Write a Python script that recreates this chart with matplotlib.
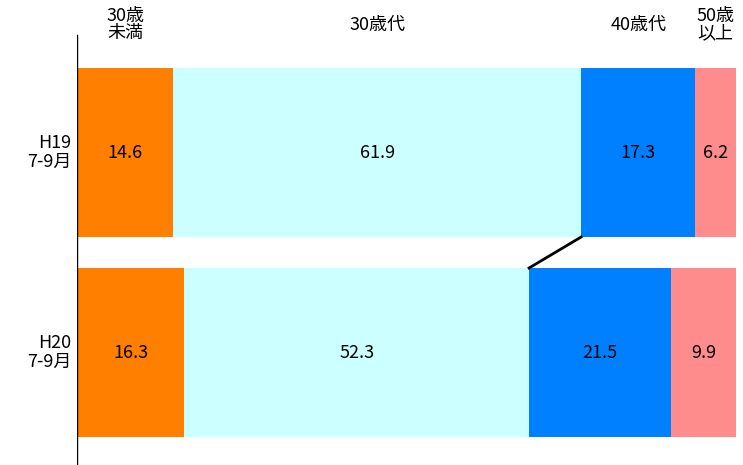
import matplotlib.pyplot as plt
import numpy as np

plt.rcParams['font.family'] = ['Noto Sans CJK JP', 'DejaVu Sans']

rows = ["H19\n7-9月", "H20\n7-9月"]
groups = ["30歳\n未満", "30歳代", "40歳代", "50歳\n以上"]
values = np.array([
    [14.6, 61.9, 17.3, 6.2],
    [16.3, 52.3, 21.5, 9.9],
])
colors = ["#FF8000", "#CCFFFF", "#0080FF", "#FF8C8C"]

fig = plt.figure(figsize=(7.43, 4.65), dpi=100)
ax = fig.add_axes([77 / 743, 0, 659 / 743, 1])
ypos = np.arange(len(rows))
h = 0.845
left = np.zeros(len(rows))
for j, g in enumerate(groups):
    ax.barh(ypos, values[:, j], left=left, height=h, color=colors[j])
    for i in range(len(rows)):
        ax.text(left[i] + values[i, j] / 2, ypos[i], f"{values[i, j]:.1f}",
                ha="center", va="center", fontsize=13)
    ax.text(left[0] + values[0, j] / 2, -0.64, g, ha="center", va="center",
            fontsize=13, linespacing=0.95)
    left += values[:, j]

cum = np.cumsum(values, axis=1)
ax.plot([cum[0, 1], cum[1, 1]], [ypos[0] + h / 2, ypos[1] - h / 2], color="black", lw=2)

for i, r in enumerate(rows):
    ax.text(-0.8, ypos[i], r, ha="right", va="center", fontsize=13, linespacing=1.05)

ax.set_xlim(0, 100)
ax.set_ylim(1.5625, -0.7625)
for s in ax.spines.values():
    s.set_visible(False)
ax.axvline(0, ymin=0, ymax=0.925, color="black", lw=1)
ax.set_xticks([])
ax.set_yticks([])
fig.savefig("out.png", dpi=100)
